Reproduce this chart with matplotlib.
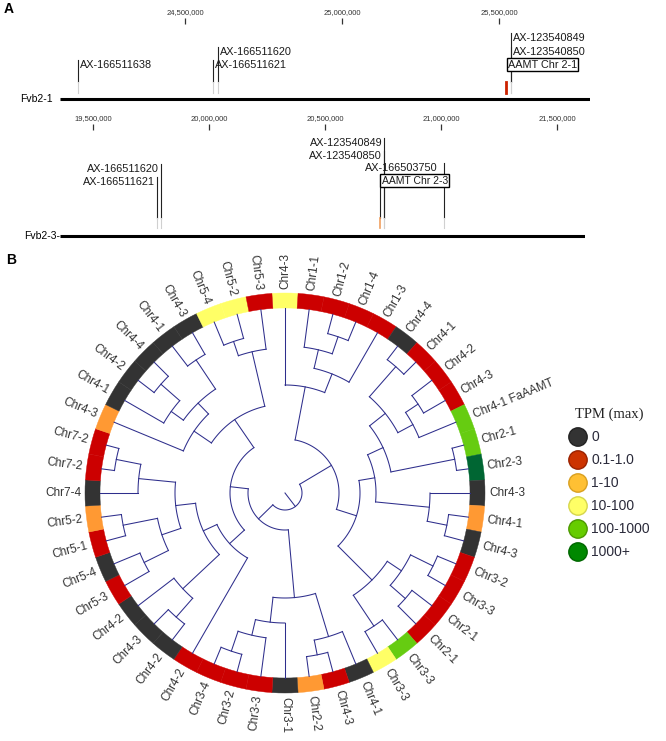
import numpy as np
import matplotlib
matplotlib.use('Agg')
import matplotlib.pyplot as plt

# ---------------- data ----------------
# panel A: marker tracks (positions in bp)
track1_name = 'Fvb2-1'
track1_window = [24_102_000, 25_790_000]
track1_ticks = [24_500_000, 25_000_000, 25_500_000]
track1_markers = ['AX-166511638', 'AX-166511620', 'AX-166511621', 'AX-123540849', 'AX-123540850']
track1_pos = [24_159_000, 24_605_000, 24_589_000, 25_538_000, 25_538_000]
track1_gene = 'AAMT Chr 2-1'
track1_gene_pos = 25_522_000

track2_name = 'Fvb2-3'
track2_window = [19_358_000, 21_621_000]
track2_ticks = [19_500_000, 20_000_000, 20_500_000, 21_000_000, 21_500_000]
track2_markers = ['AX-166511620', 'AX-166511621', 'AX-123540849', 'AX-123540850', 'AX-166503750']
track2_pos = [19_793_000, 19_776_000, 20_754_000, 20_754_000, 21_013_000]
track2_gene = 'AAMT Chr 2-3'
track2_gene_pos = 20_737_000

# panel B: circular tree, leaves clockwise from the top
leaf_labels = ['Chr4-3', 'Chr1-1', 'Chr1-2', 'Chr1-4', 'Chr1-3', 'Chr4-4', 'Chr4-1', 'Chr4-2',
               'Chr4-3', 'Chr4-1 FaAAMT', 'Chr2-1', 'Chr2-3', 'Chr4-3', 'Chr4-1', 'Chr4-3', 'Chr3-2',
               'Chr3-3', 'Chr2-1', 'Chr2-1', 'Chr3-3', 'Chr3-3', 'Chr4-1', 'Chr4-3', 'Chr2-2',
               'Chr3-1', 'Chr3-3', 'Chr3-2', 'Chr3-4', 'Chr4-2', 'Chr4-2', 'Chr4-3', 'Chr4-2',
               'Chr5-3', 'Chr5-4', 'Chr5-1', 'Chr5-2', 'Chr7-4', 'Chr7-2', 'Chr7-2', 'Chr4-3',
               'Chr4-1', 'Chr4-2', 'Chr4-4', 'Chr4-1', 'Chr4-3', 'Chr5-4', 'Chr5-2', 'Chr5-3']
# TPM class index per leaf (0: 0, 1: 0.1-1.0, 2: 1-10, 3: 10-100, 4: 100-1000, 5: 1000+)
leaf_tpm = [3, 1, 1, 1, 1, 0, 1, 1, 1, 4, 4, 5, 0, 2, 0, 1,
            1, 1, 1, 4, 3, 0, 1, 2, 0, 1, 1, 1, 1, 0, 0, 0,
            1, 0, 1, 2, 0, 1, 1, 2, 0, 0, 0, 0, 0, 3, 3, 1]

# internal nodes: name, children (leaf index or node name), node radius
tree_nodes = [
    ('t34', [2, 3], 165), ('t2', [1, 't34'], 147), ('t1', ['t2', 4], 128), ('top', [0, 't1'], 108),
    ('e67', [5, 6], 168), ('e89', [7, 8], 160), ('e810', ['e89', 9], 145),
    ('e1', ['e67', 'e810'], 128), ('e1112', [10, 11], 173), ('E', ['e1', 'e1112'], 108),
    ('f1415', [13, 14], 165), ('F', [12, 'f1415'], 145), ('D', ['E', 'F'], 91),
    ('g1617', [15, 16], 165), ('g1819', [17, 18], 160), ('g1', ['g1617', 'g1819'], 140),
    ('g2021', [19, 20], 160), ('G', ['g1', 'g2021'], 123), ('C', ['D', 'G'], 75),
    ('B', ['top', 'C'], 54),
    ('a2728', [26, 27], 167), ('a26', [25, 'a2728'], 146), ('a25', [24, 'a26'], 130),
    ('a2324', [22, 23], 165), ('a22', [21, 'a2324'], 150), ('A2', ['a25', 'a22'], 105),
    ('c3031', [29, 30], 165), ('c4', ['c3031', 31], 140), ('c5b', [32, 33], 157),
    ('c5a', [34, 35], 165), ('c5', ['c5b', 'c5a'], 130), ('c3839', [37, 38], 172),
    ('c7', [36, 'c3839'], 147), ('R', ['c5', 'c7'], 110), ('Q', ['c4', 'R'], 90),
    ('P', [28, 'Q'], 75),
    ('u4243', [41, 42], 165), ('u41', [40, 'u4243'], 140), ('u4445', [43, 44], 160),
    ('X3', ['u41', 'u4445'], 125), ('X1', [39, 'X3'], 110), ('u4647', [45, 46], 160),
    ('u48', ['u4647', 47], 145), ('U', ['X1', 'u48'], 89),
    ('A1', ['U', 'P'], 55), ('A', ['A1', 'A2'], 37), ('root', ['A', 'B'], 17),
]

legend_labels = ['0', '0.1-1.0', '1-10', '10-100', '100-1000', '1000+']
ring_colors = ['#333333', '#cc0000', '#ff9933', '#ffff66', '#66cc11', '#006633']
legend_colors = ['#333333', '#cc3300', '#ffc033', '#ffff66', '#66cc00', '#008800']
legend_edges = ['#222222', '#992200', '#d9a020', '#d6d64c', '#4c9900', '#006600']

# ---------------- figure ----------------
W, H = 666, 741
fig = plt.figure(figsize=(W / 100, H / 100), dpi=100)
plt.rcParams['font.family'] = ['Liberation Sans', 'DejaVu Sans']


def px_axes(x0, y0, x1, y1, **kw):
    return fig.add_axes([x0 / W, 1 - y1 / H, (x1 - x0) / W, (y1 - y0) / H], **kw)


def style_track(ax, window, ticks):
    ax.set_xlim(window)
    ax.set_facecolor('none')
    for s in ax.spines.values():
        s.set_visible(False)
    ax.set_yticks([])
    ax.xaxis.tick_top()
    ax.set_xticks(ticks)
    ax.set_xticklabels([f'{t:,}' for t in ticks])
    ax.tick_params(axis='x', direction='out', length=4.5, width=0.9, colors='#333333',
                   labelsize=5.5, pad=1)


# track 1
ax1 = px_axes(60, 24, 590, 110)
style_track(ax1, track1_window, track1_ticks)
ax1.set_ylim(110, 24)
ax1.plot(track1_window, [99, 99], color='black', lw=2.2, solid_capstyle='butt')
ax1.annotate(track1_name, xy=(track1_window[0], 99), xytext=(-5, 0), textcoords='offset points',
             ha='right', va='center', fontsize=7.5, annotation_clip=False)
rows1 = [65, 52, 65, 38, 52]
for name, p, ly in zip(track1_markers, track1_pos, rows1):
    ax1.plot([p, p], [ly - 5, 82], color='#222222', lw=0.8)
    ax1.plot([p, p], [82, 93], color='#d0d0d0', lw=0.8)
    ax1.annotate(name, xy=(p, ly), xytext=(1.2, 0), textcoords='offset points',
                 ha='left', va='center', fontsize=7.8, color='#1a1a1a')
ax1.plot([track1_gene_pos, track1_gene_pos], [82, 93], color='#cc2200', lw=2)
ax1.annotate(track1_gene, xy=(track1_gene_pos, 64.5), xytext=(1.5, 0), textcoords='offset points',
             ha='left', va='center', fontsize=7.8, color='#1a1a1a', zorder=5,
             bbox=dict(boxstyle='square,pad=0.12', fc='white', ec='black', lw=1.0))

# track 2
ax2 = px_axes(60, 130, 585, 245)
style_track(ax2, track2_window, track2_ticks)
ax2.set_ylim(245, 130)
ax2.plot(track2_window, [236, 236], color='black', lw=2.2, solid_capstyle='butt')
ax2.annotate(track2_name + '-', xy=(track2_window[0], 236), xytext=(0, 0), textcoords='offset points',
             ha='right', va='center', fontsize=7.5, annotation_clip=False)
rows2 = [169, 182, 143, 156, 168]
gaps2 = [-1.2, -1.2, -1.2, -1.2, -4.5]
for name, p, ly, g in zip(track2_markers, track2_pos, rows2, gaps2):
    ax2.plot([p, p], [ly - 5, 218], color='#222222', lw=0.8)
    ax2.plot([p, p], [218, 228], color='#d0d0d0', lw=0.8)
    ax2.annotate(name, xy=(p, ly), xytext=(g, 0), textcoords='offset points',
                 ha='right', va='center', fontsize=7.8, color='#1a1a1a')
ax2.plot([track2_gene_pos, track2_gene_pos], [188, 218], color='#222222', lw=0.8)
ax2.plot([track2_gene_pos, track2_gene_pos], [218, 228], color='#f0a060', lw=1.2)
ax2.annotate(track2_gene, xy=(track2_gene_pos, 180.5), xytext=(1.2, 0), textcoords='offset points',
             ha='left', va='center', fontsize=7.5, color='#1a1a1a', zorder=5,
             bbox=dict(boxstyle='square,pad=0.12', fc='white', ec='black', lw=1.0))

# ---------------- panel B: circular tree ----------------
axp = px_axes(75, 283, 495, 703, projection='polar')
axp.set_ylim(0, 210)
axp.set_axis_off()

n = len(leaf_labels)
leaf_ang = 90 - 7.5 * np.arange(n)
R_LEAF, RING_W = 185, 15
tree_col = '#2e2e8c'

ang, rad = {}, {}
for i in range(n):
    ang[i], rad[i] = leaf_ang[i], R_LEAF
for name, kids, r in tree_nodes:
    a_k = [ang[k] for k in kids]
    ang[name], rad[name] = np.mean([min(a_k), max(a_k)]), r
    t = np.deg2rad(np.linspace(min(a_k), max(a_k), 60))
    axp.plot(t, np.full_like(t, r), color=tree_col, lw=0.75)
    for k in kids:
        th = np.deg2rad(ang[k])
        axp.plot([th, th], [r, rad[k]], color=tree_col, lw=0.75)
th = np.deg2rad(ang['root'])
axp.plot([th, th], [0, rad['root']], color=tree_col, lw=0.75)

cols = [ring_colors[c] for c in leaf_tpm]
axp.bar(np.deg2rad(leaf_ang), RING_W, width=np.deg2rad(7.5), bottom=R_LEAF,
        color=cols, edgecolor=cols, linewidth=0.3, align='center')

for a, lab in zip(leaf_ang, leaf_labels):
    a_n = (a + 180) % 360 - 180
    if -90 <= a_n <= 90:
        rot, ha = a_n, 'left'
    else:
        rot, ha = (a_n + 180 if a_n < 0 else a_n - 180), 'right'
    axp.text(np.deg2rad(a), 204, lab, rotation=rot, rotation_mode='anchor',
             ha=ha, va='center', fontsize=8.5, color='#333333')

# ---------------- overlay: legend and panel letters ----------------
ov = fig.add_axes([0, 0, 1, 1])
ov.set_xlim(0, W)
ov.set_ylim(H, 0)
ov.axis('off')
leg_y = 437 + 23 * np.arange(len(legend_labels))
ov.scatter(np.full(len(leg_y), 578), leg_y, s=175, c=legend_colors, edgecolors=legend_edges,
           linewidths=1.0, zorder=3)
for y, lab in zip(leg_y, legend_labels):
    ov.text(591, y, lab, ha='left', va='center', fontsize=10, color='#2a2a3a')
ov.text(575, 414, 'TPM (max)', ha='left', va='center', fontsize=10.5,
        family=['Liberation Serif', 'DejaVu Serif'], color='#222222')
ov.text(4, 9, 'A', ha='left', va='center', fontsize=10, fontweight='bold')
ov.text(6, 260, 'B', ha='left', va='center', fontsize=10, fontweight='bold')

fig.savefig('out.png', dpi=100)
